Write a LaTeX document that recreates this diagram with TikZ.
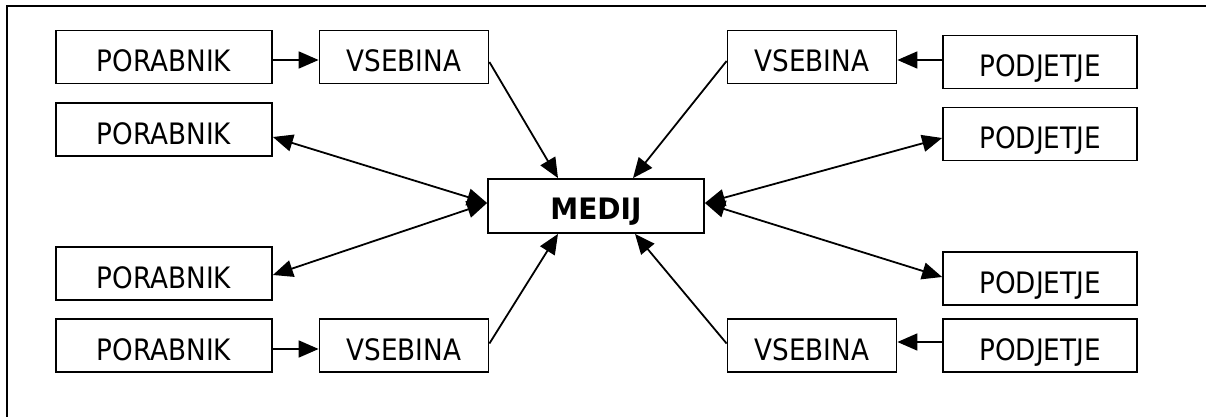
\documentclass[tikz,border=0pt]{standalone}
\usepackage{fontspec}
\usetikzlibrary{arrows.meta}
\newfontfamily\lblfont[FakeStretch=0.89]{DejaVu Sans}
\newfontfamily\lblbold[FakeStretch=0.95]{DejaVu Sans Bold}
\begin{document}
\begin{tikzpicture}[x=1pt,y=-1pt,
  box/.style={draw, line width=1.8pt, inner sep=0pt, minimum height=53pt,
    text height=29.5pt, text depth=0pt,
    font=\lblfont\fontsize{29.5}{32}\selectfont},
  pbox/.style={box, minimum width=216pt},
  vbox/.style={box, minimum width=169pt},
  dbox/.style={box, minimum width=194pt},
  mbox/.style={box, minimum width=216pt, minimum height=54pt, text height=27.5pt,
    font=\lblbold\fontsize{29.5}{32}\selectfont},
  arr/.style={line width=1.8pt, -{Triangle[length=20pt,width=17pt]}},
  darr/.style={line width=1.8pt, {Triangle[length=20pt,width=17pt]}-{Triangle[length=20pt,width=17pt]}},
  frame/.style={line width=2pt}
]
\useasboundingbox (0,0) rectangle (1206,417);
\draw[frame] (1206,6) -- (7,6) -- (7,417);

\node[pbox] (P1) at (164,57) {PORABNIK};
\node[vbox] (V1) at (404,57) {VSEBINA};
\node[pbox] (P2) at (164,129.5) {PORABNIK};
\node[pbox] (P3) at (164,273.5) {PORABNIK};
\node[pbox] (P4) at (164,345.5) {PORABNIK};
\node[vbox] (V2) at (404,345.5) {VSEBINA};

\node[mbox] (M) at (596,206) {MEDIJ};

\node[vbox] (VR1) at (812,57) {VSEBINA};
\node[dbox] (D1) at (1040,62) {PODJETJE};
\node[dbox] (D2) at (1040,134) {PODJETJE};
\node[dbox] (D3) at (1040,278.5) {PODJETJE};
\node[dbox] (D4) at (1040,345.5) {PODJETJE};
\node[vbox] (VR2) at (812,345.5) {VSEBINA};

\draw[arr] ([yshift=-3pt]P1.east) -- ([yshift=-3pt]V1.west);
\draw[arr] ([yshift=-3.5pt]P4.east) -- ([yshift=-3.5pt]V2.west);
\draw[arr] ([yshift=2pt]D1.west) -- ([yshift=-3pt]VR1.east);
\draw[arr] ([yshift=3.5pt]D4.west) -- ([yshift=3.5pt]VR2.east);

\draw[arr] ([yshift=-5pt]V1.east) -- ([xshift=-38pt]M.north);
\draw[arr] ([yshift=-4pt]VR1.west) -- ([xshift=37pt]M.north);
\draw[arr] ([yshift=2pt]V2.east) -- ([xshift=-38pt]M.south);
\draw[arr] ([yshift=2pt]VR2.west) -- ([xshift=39pt]M.south);

\draw[darr] ([yshift=-7.5pt]P2.east) -- ([yshift=3pt]M.west);
\draw[darr] ([yshift=-1.5pt]P3.east) -- ([yshift=3pt]M.west);
\draw[darr] ([yshift=-4pt]D2.west) -- ([yshift=3pt]M.east);
\draw[darr] ([yshift=1.5pt]D3.west) -- ([yshift=3pt]M.east);
\end{tikzpicture}
\end{document}
